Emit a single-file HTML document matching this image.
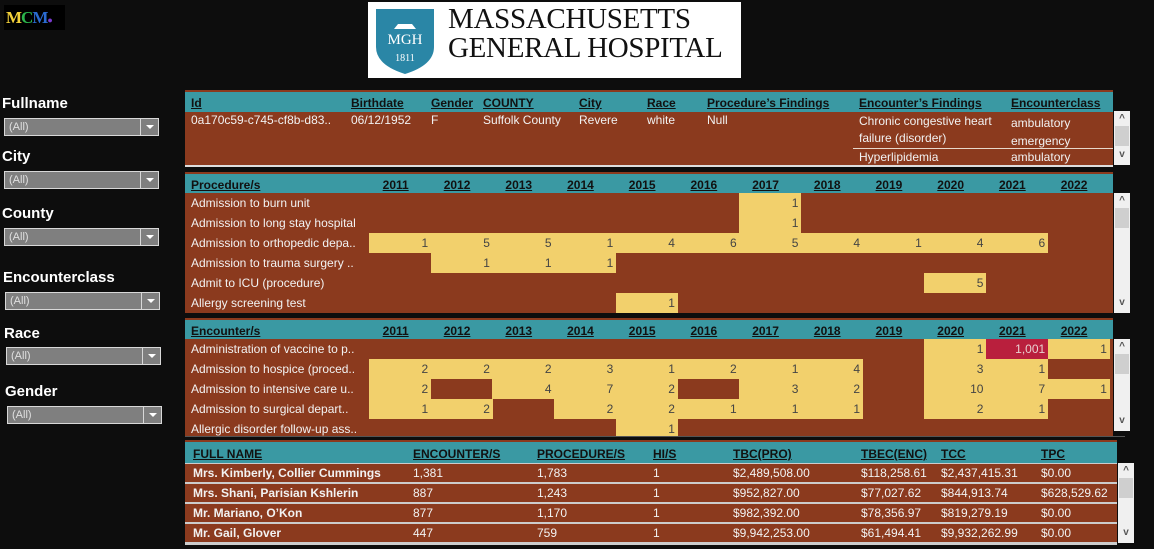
<!DOCTYPE html>
<html><head><meta charset="utf-8">
<style>
body{margin:0;width:1154px;height:549px;background:#0d0d0d;position:relative;overflow:hidden;font-family:"Liberation Sans",sans-serif;}
.abs{position:absolute}
.lbl{position:absolute;color:#fff;font-weight:bold;font-size:15px;}
.dd{position:absolute;width:155px;height:18px;background:#7f7f7f;border:1px solid #d8d8d8;box-sizing:border-box;color:#e0e0e0;font-size:11px;line-height:16px;padding-left:4px}
.dd .btn{position:absolute;right:0;top:0;width:17px;height:16px;border-left:1px solid #d8d8d8}
.dd .btn:after{content:"";position:absolute;left:5px;top:6px;border:4px solid transparent;border-top:4px solid #fff}
.hdr{position:absolute;background:#3a99a3;border-top:2px solid #8b3a1e;box-sizing:border-box}
.h{position:absolute;font-weight:bold;font-size:12px;color:#111;text-decoration:underline;white-space:nowrap}
.t{position:absolute;font-size:12px;color:#f2f2f2;white-space:nowrap}
.brown{position:absolute;background:#8b3a1e}
.sb{position:absolute;background:#f0f0f0;width:16px}
.sb .th{position:absolute;left:1px;width:14px;background:#cfcfcf}
.sb .up,.sb .dn{position:absolute;left:0;width:16px;text-align:center;font-size:10px;color:#555;font-weight:bold}
</style></head><body>

<div class="abs" style="left:4px;top:5px;width:59px;height:25px;background:#000;font:bold 17px 'Liberation Serif',serif;line-height:25px;padding-left:2px;letter-spacing:-1px"><span style="color:#f2d03a">M</span><span style="color:#2bb34a">C</span><span style="color:#2a6bd0">M</span><span style="color:#7a3ad0;font-size:9px">●</span></div>

<div class="abs" style="left:368px;top:2px;width:373px;height:76px;background:#fff">
 <svg class="abs" style="left:6px;top:5px" width="62" height="68"><path d="M2 2 H60 V40 Q60 58 31 67 Q2 58 2 40Z" fill="#2a86a6"/><text x="31" y="37" fill="#fff" font-family="Liberation Serif" font-size="15" text-anchor="middle">MGH</text><text x="31" y="54" fill="#fff" font-family="Liberation Serif" font-size="10" text-anchor="middle">1811</text><path d="M20 22 H42 L38 17 H24Z" fill="#fff"/></svg>
 <div class="abs" style="left:80px;top:3px;font:29px 'Liberation Serif',serif;color:#111;line-height:29px;letter-spacing:-0.3px">MASSACHUSETTS<br>GENERAL HOSPITAL</div>
</div>

<div class="lbl" style="left:2px;top:95px">Fullname</div>
<div class="dd" style="left:4px;top:118px">(All)<div class="btn"></div></div>
<div class="lbl" style="left:2px;top:148px">City</div>
<div class="dd" style="left:4px;top:171px">(All)<div class="btn"></div></div>
<div class="lbl" style="left:2px;top:205px">County</div>
<div class="dd" style="left:4px;top:228px">(All)<div class="btn"></div></div>
<div class="lbl" style="left:3px;top:269px">Encounterclass</div>
<div class="dd" style="left:5px;top:292px">(All)<div class="btn"></div></div>
<div class="lbl" style="left:4px;top:325px">Race</div>
<div class="dd" style="left:6px;top:347px">(All)<div class="btn"></div></div>
<div class="lbl" style="left:5px;top:383px">Gender</div>
<div class="dd" style="left:7px;top:406px">(All)<div class="btn"></div></div>

<!-- patient table -->
<div class="hdr" style="left:185px;top:90px;width:928px;height:22px">
 <div class="h" style="left:6px;top:4px">Id</div><div class="h" style="left:166px;top:4px">Birthdate</div><div class="h" style="left:246px;top:4px">Gender</div><div class="h" style="left:298px;top:4px">COUNTY</div><div class="h" style="left:394px;top:4px">City</div><div class="h" style="left:462px;top:4px">Race</div><div class="h" style="left:522px;top:4px">Procedure’s Findings</div><div class="h" style="left:674px;top:4px">Encounter’s Findings</div><div class="h" style="left:826px;top:4px">Encounterclass</div>
</div>
<div class="brown" style="left:185px;top:112px;width:928px;height:53px">
 <div class="t" style="left:6px;top:1px">0a170c59-c745-cf8b-d83..</div><div class="t" style="left:166px;top:1px">06/12/1952</div><div class="t" style="left:246px;top:1px">F</div><div class="t" style="left:298px;top:1px">Suffolk County</div><div class="t" style="left:394px;top:1px">Revere</div><div class="t" style="left:462px;top:1px">white</div><div class="t" style="left:522px;top:1px">Null</div>
 <div class="t" style="left:674px;top:1px;line-height:17px">Chronic congestive heart<br>failure (disorder)</div>
 <div class="t" style="left:826px;top:2px;line-height:18px">ambulatory<br>emergency</div>
 <div class="abs" style="left:668px;top:36px;width:260px;height:1px;background:#e8d8cc"></div>
 <div class="t" style="left:674px;top:38px">Hyperlipidemia</div><div class="t" style="left:826px;top:38px">ambulatory</div>
</div>
<div class="abs" style="left:185px;top:165px;width:928px;height:2px;background:#ddd"></div>
<div class="sb" style="left:1114px;top:111px;height:54px"><div class="up" style="top:2px">^</div><div class="th" style="top:15px;height:20px"></div><div class="dn" style="top:38px">v</div></div>

<!-- procedures -->
<div class="hdr" id="ph" style="left:185px;top:172px;width:928px;height:21px"><div class="h" style="left:6px;top:4px">Procedure/s</div></div>
<div class="brown" id="pb" style="left:185px;top:193px;width:928px;height:120px"></div>
<div class="sb" style="left:1114px;top:193px;height:120px"><div class="up" style="top:2px">^</div><div class="th" style="top:15px;height:20px"></div><div class="dn" style="top:104px">v</div></div>

<!-- encounters -->
<div class="hdr" id="eh" style="left:185px;top:318px;width:928px;height:21px"><div class="h" style="left:6px;top:4px">Encounter/s</div></div>
<div class="brown" id="eb" style="left:185px;top:339px;width:928px;height:97px;overflow:hidden"></div>
<div class="sb" style="left:1114px;top:339px;height:92px"><div class="up" style="top:2px">^</div><div class="th" style="top:15px;height:20px"></div><div class="dn" style="top:76px">v</div></div>
<div class="abs" style="left:185px;top:436px;width:940px;height:1px;background:#555"></div>

<!-- summary -->
<div class="hdr" style="left:185px;top:440px;width:932px;height:23px">
 <div class="h" style="left:8px;top:5px">FULL NAME</div><div class="h" style="left:228px;top:5px">ENCOUNTER/S</div><div class="h" style="left:352px;top:5px">PROCEDURE/S</div><div class="h" style="left:468px;top:5px">HI/S</div><div class="h" style="left:548px;top:5px">TBC(PRO)</div><div class="h" style="left:676px;top:5px">TBEC(ENC)</div><div class="h" style="left:756px;top:5px">TCC</div><div class="h" style="left:856px;top:5px">TPC</div>
</div>
<div id="sum" class="abs" style="left:185px;top:463px;width:932px;height:82px;background:#ccc"></div>
<div class="sb" style="left:1118px;top:463px;height:80px"><div class="up" style="top:2px">^</div><div class="th" style="top:15px;height:20px"></div><div class="dn" style="top:64px">v</div></div>

<script>
const years=[2011,2012,2013,2014,2015,2016,2017,2018,2019,2020,2021,2022];
const procNames=["Admission to burn unit","Admission to long stay hospital","Admission to orthopedic depa..","Admission to trauma surgery ..","Admit to ICU (procedure)","Allergy screening test"];
const procBurn=[null,null,null,null,null,null,1,null,null,null,null,null];
const procLongStay=[null,null,null,null,null,null,1,null,null,null,null,null];
const procOrtho=[1,5,5,1,4,6,5,4,1,4,6,null];
const procTrauma=[null,1,1,1,null,null,null,null,null,null,null,null];
const procIcu=[null,null,null,null,null,null,null,null,null,5,null,null];
const procAllergy=[null,null,null,null,1,null,null,null,null,null,null,null];
const encNames=["Administration of vaccine to p..","Admission to hospice (proced..","Admission to intensive care u..","Admission to surgical depart..","Allergic disorder follow-up ass.."];
const encVaccine=[null,null,null,null,null,null,null,null,null,1,1001,1];
const encHospice=[2,2,2,3,1,2,1,4,null,3,1,null];
const encIcu=[2,null,4,7,2,null,3,2,null,10,7,1];
const encSurgical=[1,2,null,2,2,1,1,1,null,2,1,null];
const encAllergic=[null,null,null,null,1,null,null,null,null,null,null,null];
const sumNames=["Mrs. Kimberly, Collier Cummings","Mrs. Shani, Parisian Kshlerin","Mr. Mariano, O’Kon","Mr. Gail, Glover"];
const sumEnc=["1,381","887","877","447"];
const sumProc=["1,783","1,243","1,170","759"];
const sumHi=["1","1","1","1"];
const sumTbc=["$2,489,508.00","$952,827.00","$982,392.00","$9,942,253.00"];
const sumTbec=["$118,258.61","$77,027.62","$78,356.97","$61,494.41"];
const sumTcc=["$2,437,415.31","$844,913.74","$819,279.19","$9,932,262.99"];
const sumTpc=["$0.00","$628,529.62","$0.00","$0.00"];

const X0=184, CW=61.7, RH=20;
const xScale=i=>X0+i*CW;
const yScale=r=>r*RH;
function fmt(v){return v.toLocaleString('en-US');}
function header(id){
  const h=document.getElementById(id);
  years.forEach((y,i)=>{
    const d=document.createElement('div');d.className='h';
    
    
    d.style.left=(xScale(i)+CW-22)+'px';d.style.top='4px';d.style.transform='translateX(-100%)';
    d.textContent=y;h.appendChild(d);
  });
}
function heat(id,names,rows){
  const b=document.getElementById(id);
  names.forEach((n,r)=>{
    const l=document.createElement('div');l.className='t';
    
    
    l.style.left='6px';l.style.top=(yScale(r)+3)+'px';l.textContent=n;b.appendChild(l);
    rows[r].forEach((v,i)=>{
      if(v==null)return;
      const c=document.createElement('div');
      
      
      c.style.cssText='position:absolute;font-size:12px;text-align:right;box-sizing:border-box;padding-right:3px;line-height:20px';
      c.style.left=xScale(i)+'px';c.style.top=yScale(r)+'px';c.style.width=(CW+0.5)+'px';c.style.height=RH+'px';
      c.style.background=v>100?'#b91f3d':'#f2d06c';c.style.color=v>100?'#e8d0d0':'#444';
      c.textContent=fmt(v);b.appendChild(c);
    });
  });
}
header('ph');header('eh');
heat('pb',procNames,[procBurn,procLongStay,procOrtho,procTrauma,procIcu,procAllergy]);
heat('eb',encNames,[encVaccine,encHospice,encIcu,encSurgical,encAllergic]);
const s=document.getElementById('sum');
const cols=[[sumNames,8,true],[sumEnc,228],[sumProc,352],[sumHi,468],[sumTbc,548],[sumTbec,676],[sumTcc,756],[sumTpc,856]];
sumNames.forEach((n,r)=>{
  const row=document.createElement('div');
  
  
  row.style.cssText='position:absolute;left:0;width:932px;height:18px;background:#8b3a1e';
  row.style.top=(r*20+1)+'px';
  cols.forEach(([arr,x,b])=>{
    const t=document.createElement('div');t.className='t';
    t.style.left=x+'px';t.style.top='2px';if(b)t.style.fontWeight='bold';
    t.textContent=arr[r];row.appendChild(t);
  });
  s.appendChild(row);
});
</script>
</body></html>
